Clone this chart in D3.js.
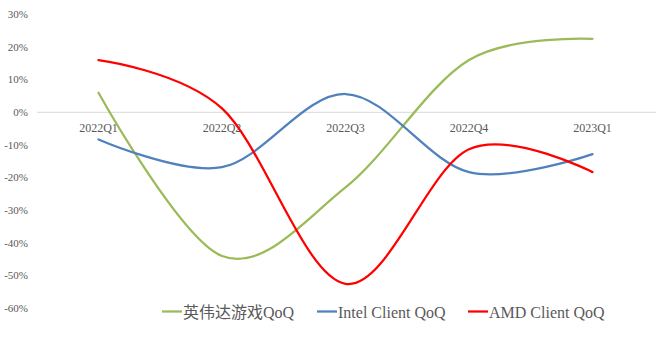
<!DOCTYPE html>
<html><head><meta charset="utf-8">
<script src="https://cdn.jsdelivr.net/npm/d3@7"></script>
<style>body{margin:0;background:#fff}svg{display:block}</style>
</head><body>
<svg id="c" width="663" height="338"></svg>
<script>
const categories = ["2022Q1","2022Q2","2022Q3","2022Q4","2023Q1"];
const nvidiaGaming = [6, -44, -23, 16, 22.5];
const intelClient = [-8.3, -16.8, 5.6, -18.3, -12.8];
const amdClient = [16, 1.2, -52.5, -11.3, -18.3];
const yTicks = [30, 20, 10, 0, -10, -20, -30, -40, -50, -60];
const seriesNames = ["英伟达游戏QoQ", "Intel Client QoQ", "AMD Client QoQ"];
const seriesColors = ["#9BBB59", "#4F81BD", "#FF0000"];

const svg = d3.select("#c");
const x = d3.scalePoint().domain(categories).range([98.5, 592.5]);
const y = d3.scaleLinear().domain([-60, 30]).range([308.3, 14.3]);
const serif = "'Liberation Serif','Times New Roman',serif";
const textCol = "#595959";

// zero line
svg.append("line").attr("x1", 37).attr("x2", 656).attr("y1", y(0)).attr("y2", y(0))
  .attr("stroke", "#d9d9d9").attr("stroke-width", 1);

// y labels
svg.append("g").selectAll("text").data(yTicks).join("text")
  .attr("x", 28).attr("y", d => y(d)).attr("dy", "0.35em")
  .attr("text-anchor", "end").attr("font-family", serif).attr("font-size", 11)
  .attr("fill", textCol).text(d => d + "%");

// x labels
svg.append("g").selectAll("text").data(categories).join("text")
  .attr("x", d => x(d)).attr("y", y(0) + 19.5)
  .attr("text-anchor", "middle").attr("font-family", serif).attr("font-size", 12)
  .attr("fill", textCol).text(d => d);

const allSeries = [nvidiaGaming, intelClient, amdClient];
const line = d3.line().x((d, i) => x(categories[i])).y(d => y(d)).curve(d3.curveCatmullRom.alpha(0));
allSeries.forEach((s, k) => {
  svg.append("path").datum(s).attr("d", line).attr("fill", "none")
    .attr("stroke", seriesColors[k]).attr("stroke-width", 2.25).attr("stroke-linecap", "round");
});

// legend
const legX = [162, 317, 468];
const lg = svg.append("g");
seriesNames.forEach((n, k) => {
  lg.append("line").attr("x1", legX[k]).attr("x2", legX[k] + 20).attr("y1", 311.5).attr("y2", 311.5)
    .attr("stroke", seriesColors[k]).attr("stroke-width", 2.25);
  lg.append("text").attr("x", legX[k] + 21).attr("y", 317.5)
    .attr("font-family", "'Liberation Serif','Noto Sans CJK SC',serif").attr("font-size", 16)
    .attr("fill", textCol).text(n);
});
</script>
</body></html>
